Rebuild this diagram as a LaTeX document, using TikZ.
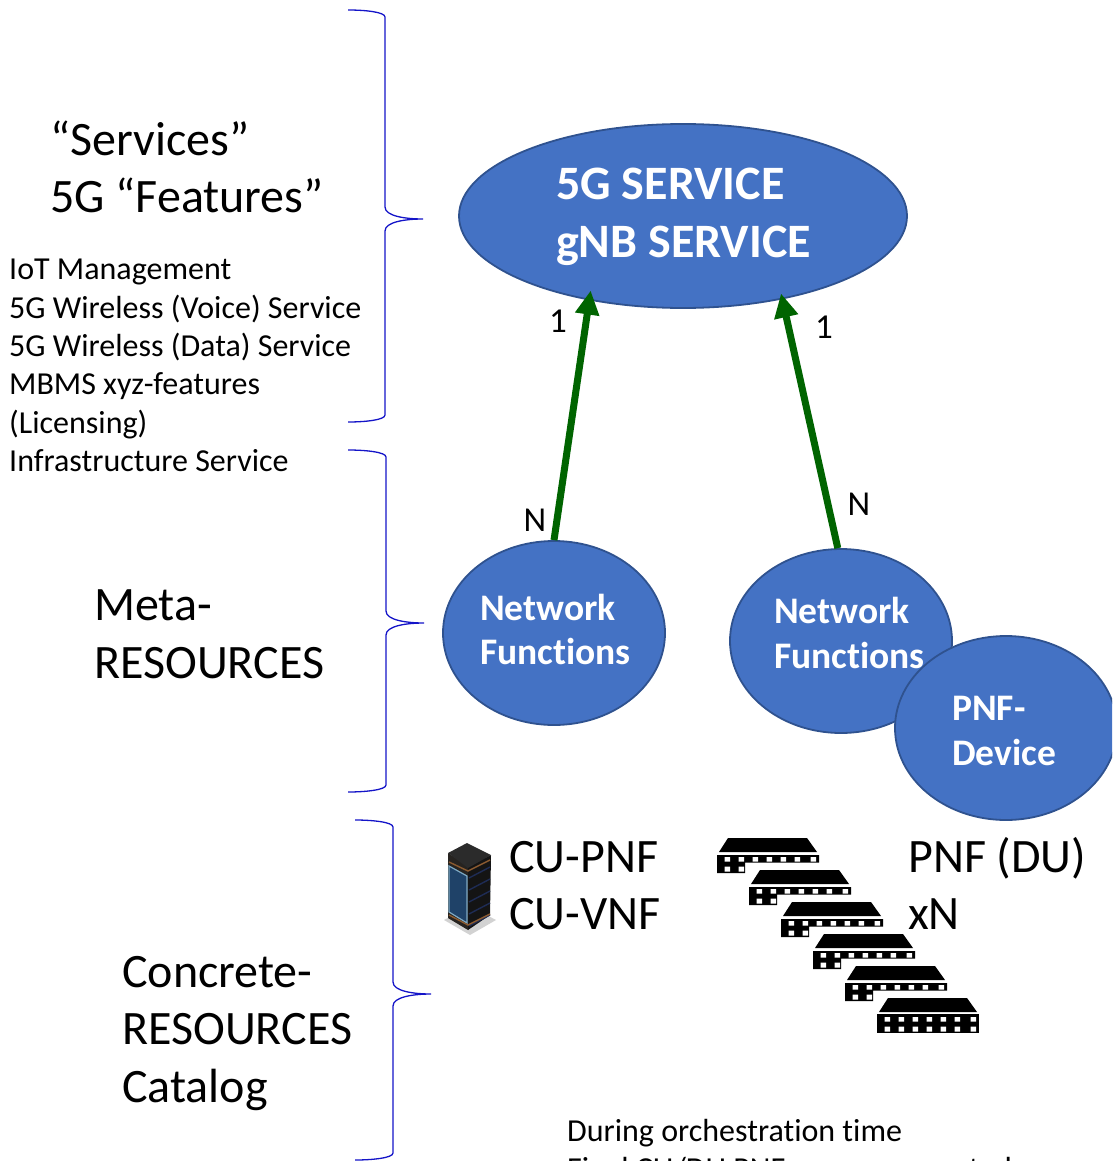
\documentclass[tikz,border=0pt]{standalone}
\usepackage{fontspec}
\setmainfont{Carlito}[Ligatures=NoCommon]
\usetikzlibrary{arrows.meta,shapes.geometric}
\definecolor{bluefill}{HTML}{4472C4}
\definecolor{blueedge}{HTML}{2F528F}
\definecolor{bracecol}{HTML}{1414C8}
\definecolor{arrowgreen}{HTML}{006400}
\definecolor{srvtop}{HTML}{2B2B2B}
\definecolor{srvleft}{HTML}{262320}
\definecolor{srvright}{HTML}{141414}
\definecolor{srvpanel}{HTML}{1F4268}
\definecolor{srvframe}{HTML}{7FAAC4}
\definecolor{srvstripe}{HTML}{1E2C55}
\definecolor{srvorange}{HTML}{8A5A30}
\tikzset{
  blob/.style={ellipse,draw=blueedge,line width=1.8pt,fill=bluefill,inner sep=0pt,minimum width=222pt,minimum height=184pt},
  brace/.style={draw=bracecol,line width=1.3pt},
  link/.style={draw=arrowgreen,line width=7pt,-{Triangle[length=24pt,width=23pt]}},
  big/.style={anchor=base west,inner sep=0pt,font=\fontsize{48}{48}\selectfont},
  mid/.style={anchor=base west,inner sep=0pt,font=\fontsize{32}{32}\selectfont},
  num/.style={anchor=base,inner sep=0pt,font=\fontsize{35}{35}\selectfont},
  onblue/.style={anchor=base west,inner sep=0pt,text=white,font=\fontsize{37.5}{37.5}\selectfont\bfseries},
  onbluebig/.style={anchor=base west,inner sep=0pt,text=white,font=\fontsize{48}{48}\selectfont\bfseries},
  pics/pnfpart/.style={code={
    \fill (11,0) -- (90,0) -- (100,14) -- (2,14) -- cycle;
    \fill (0,17) -- (102,17) -- (102,24.5) -- (28,24.5) -- (28,35) -- (0,35) -- cycle;
    \fill[white] foreach \x in {7.5,21.5,35.5,49.5,63.5,77.5,93.5} {(\x,19) rectangle ++(5.5,4.5)};
    \fill[white] (7.5,28.5) rectangle ++(5.5,5) (21.5,28.5) rectangle ++(5.5,5);
  }},
  pics/pnffull/.style={code={
    \fill (11,0) -- (90,0) -- (100,14) -- (2,14) -- cycle;
    \fill (0,16) rectangle (102,35);
    \fill[white] foreach \x in {7.5,21.5,35.5,49.5,63.5,77.5,93.5} {(\x,19) rectangle ++(5.5,4.5) (\x,28.5) rectangle ++(5.5,5)};
  }},
}
\begin{document}
\begin{tikzpicture}[x=1pt,y=-1pt]
\useasboundingbox (0,0) rectangle (1112,1161);
\clip (0,0) rectangle (1112,1161);
% braces
\draw[brace] (348,10) .. controls (365,10) and (385,12) .. (385,17) -- (385,207) .. controls (385,216) and (405,219) .. (423,219) .. controls (405,219) and (385,222) .. (385,231) -- (385,415) .. controls (385,420) and (365,422) .. (348,422);
\draw[brace] (348,450) .. controls (365,450) and (386,452) .. (386,457) -- (386,611) .. controls (386,620) and (406,623) .. (424,623) .. controls (406,623) and (386,626) .. (386,635) -- (386,785) .. controls (386,790) and (365,792) .. (348,792);
\draw[brace] (355,820) .. controls (372,820) and (393,822) .. (393,827) -- (393,982) .. controls (393,991) and (413,994) .. (431,994) .. controls (413,994) and (393,997) .. (393,1006) -- (393,1153) .. controls (393,1158) and (372,1160) .. (355,1160);
% ellipses
\node[blob,minimum width=448pt] (svc) at (683,216) {};
\node[blob] (nfa) at (554,633) {};
\node[blob] (nfb) at (841,641) {};
\node[blob] (pnfd) at (1006,728) {};
% arrows
\draw[link,shorten >=-10pt] (nfa.north) -- (svc.222);
\draw[link,shorten >=-6pt] (nfb.92) -- (svc.320);
% ellipse text
\node[onbluebig] (t1) at (556,200) {5G SERVICE};
\node[onbluebig] (t2) at (556,257) {gNB SERVICE};
\node[onblue] (t3) at (480,620) {Network};
\node[onblue] (t4) at (480,664) {Functions};
\node[onblue] (t5) at (774,623) {Network};
\node[onblue] (t6) at (774,668) {Functions};
\node[onblue] (t7) at (952,720) {PNF-};
\node[onblue] (t8) at (952,765) {Device};
% multiplicities
\node[num] (m1) at (558,332) {1};
\node[num] (m2) at (824,338) {1};
\node[num] (m3) at (535,531) {N};
\node[num] (m4) at (859,515) {N};
% left text
\node[big] (l1) at (50,155.5) {“Services”};
\node[big] (l2) at (50,212.5) {5G “Features”};
\node[mid] (i1) at (9,279) {IoT Management};
\node[mid] (i2) at (9,318) {5G Wireless (Voice) Service};
\node[mid] (i3) at (9,356) {5G Wireless (Data) Service};
\node[mid] (i4) at (9,394) {MBMS xyz-features};
\node[mid] (i5) at (9,433) {(Licensing)};
\node[mid] (i6) at (9,471) {Infrastructure Service};
\node[big] (r1) at (94,620.5) {Meta-};
\node[big] (r2) at (94,678.5) {RESOURCES};
\node[big] (c1) at (122,987.5) {Concrete-};
\node[big] (c2) at (122,1044.5) {RESOURCES};
\node[big] (c3) at (122,1102.5) {Catalog};
\node[big] (p1) at (509,872.5) {CU-PNF};
\node[big] (p2) at (509,929.5) {CU-VNF};
\node[big] (p3) at (908,872.5) {PNF (DU)};
\node[big] (p4) at (908,929.5) {xN};
\node[mid] (o1) at (567,1141) {During orchestration time};
\node[mid] (o2) at (567,1179) {Final CU/DU PNFs are represented};
% server
\fill[gray!35] (444,920) -- (470,906) -- (496,920) -- (470,935) -- cycle;
\fill[srvleft] (448,853) -- (468,866) -- (468,930) -- (448,918) -- cycle;
\fill[srvright] (468,866) -- (491,855) -- (490,915) -- (468,930) -- cycle;
\fill[srvtop] (448,853) -- (467,843) -- (491,855) -- (468,868) -- cycle;
\fill[srvpanel,draw=srvframe,line width=1.2pt] (449,866) -- (467,876) -- (467,923) -- (449,912) -- cycle;
\foreach \d in {0,12,24,36,48} \draw[srvstripe,line width=1.4pt] (469,878+\d) -- (490,867+\d);
\draw[srvorange,line width=1.4pt] (449,862) -- (468,871) -- (490,860) (449,915) -- (468,925) -- (490,914);
% PNF stack
\pic at (717,838) {pnfpart};
\pic at (749,870) {pnfpart};
\pic at (781,902) {pnfpart};
\pic at (813,934) {pnfpart};
\pic at (845,966) {pnfpart};
\pic at (877,998) {pnffull};
\end{tikzpicture}
\end{document}
